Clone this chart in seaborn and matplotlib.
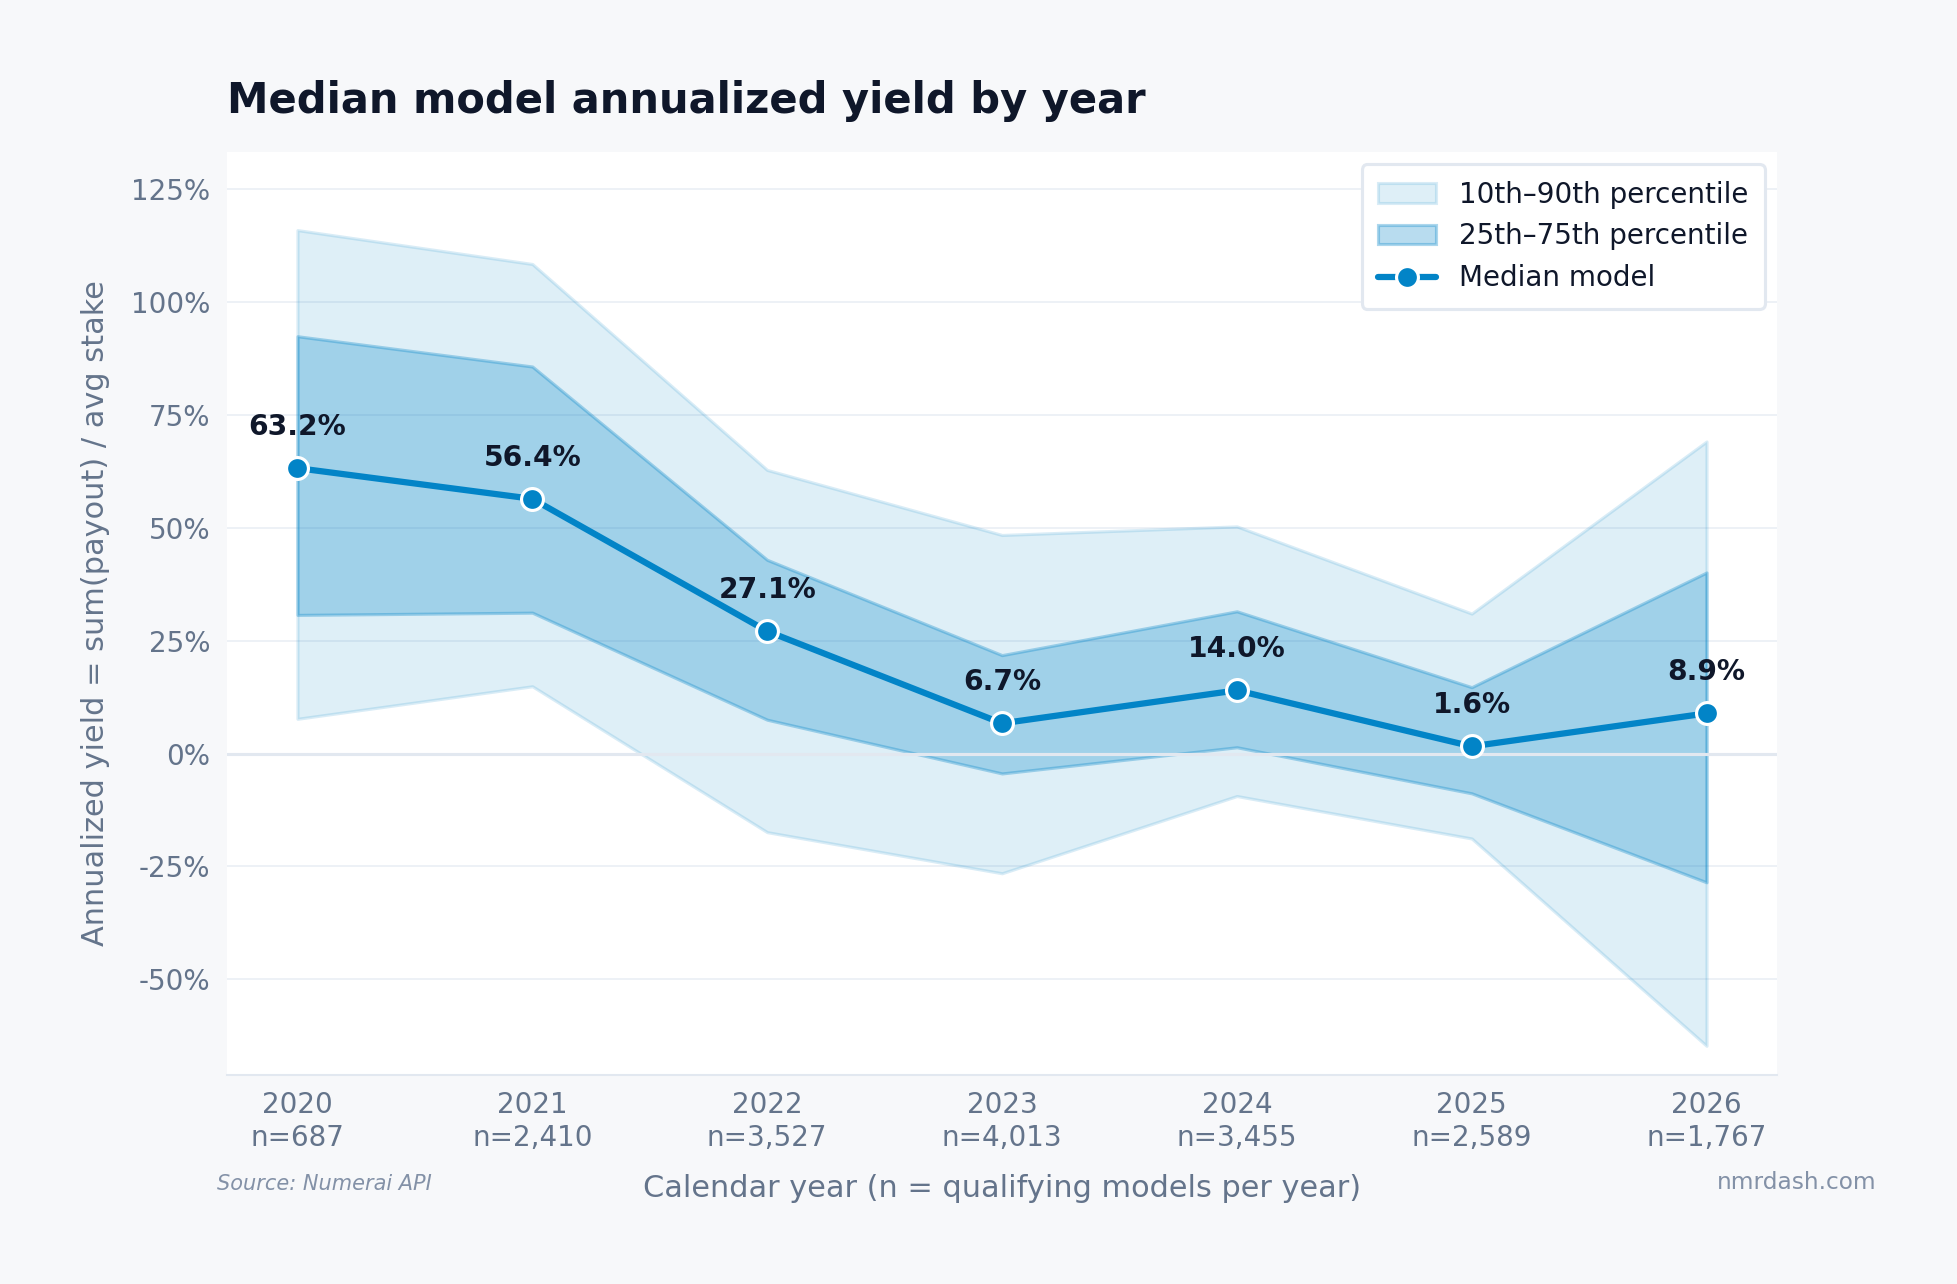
import matplotlib
matplotlib.use("Agg")
import matplotlib.pyplot as plt
import seaborn as sns
import numpy as np
import pandas as pd
from matplotlib.ticker import FuncFormatter

years = ["2020", "2021", "2022", "2023", "2024", "2025", "2026"]
counts = ["687", "2,410", "3,527", "4,013", "3,455", "2,589", "1,767"]
median = [63.2, 56.4, 27.1, 6.7, 14.0, 1.6, 8.9]
p10 = [7.7, 14.9, -17.4, -26.5, -9.4, -18.8, -64.7]
p25 = [30.7, 31.2, 7.5, -4.4, 1.4, -8.8, -28.5]
p75 = [92.4, 85.7, 42.9, 21.8, 31.5, 14.7, 40.1]
p90 = [115.9, 108.4, 62.8, 48.4, 50.3, 31.0, 69.1]

BG = "#f7f8fa"
LINE = "#0284c7"
DARK = "#0f172a"
MUTED = "#64748b"

sns.set_theme(style="white")
plt.rcParams["font.family"] = ["DejaVu Sans"]

fig = plt.figure(figsize=(13.047, 8.56), dpi=150, facecolor=BG)
ax = fig.add_axes([0.116, 0.163, 0.792, 0.719])
ax.set_facecolor("white")

x = np.arange(len(years))
df = pd.DataFrame({"x": x, "median": median})

ax.fill_between(x, p10, p90, facecolor=(2/255, 132/255, 199/255, 0.13),
                edgecolor=(2/255, 132/255, 199/255, 0.15),
                linewidth=1.5, label="10th\u201390th percentile", zorder=1)
ax.fill_between(x, p25, p75, facecolor=(2/255, 132/255, 199/255, 0.28),
                edgecolor=(2/255, 132/255, 199/255, 0.32),
                linewidth=1.5, label="25th\u201375th percentile", zorder=2)

ax.axhline(0, color="#e2e8f0", linewidth=1.5, zorder=3)

sns.lineplot(data=df, x="x", y="median", ax=ax, color=LINE, linewidth=3.0,
             marker="o", markersize=10.5, markeredgecolor="white", markeredgewidth=1.5,
             label="Median model", zorder=5)

for xi, m in zip(x, median):
    ax.annotate(f"{m:.1f}%", (xi, m), xytext=(0, 13), textcoords="offset points",
                ha="center", va="bottom", fontsize=13.5, fontweight="bold", color=DARK, zorder=6)

ax.set_xlim(-0.3, 6.3)
ax.set_ylim(-71.1, 133.3)
ax.set_yticks([-50, -25, 0, 25, 50, 75, 100, 125])
ax.yaxis.set_major_formatter(FuncFormatter(lambda v, p: f"{v:.0f}%"))
ax.set_xticks(x)
ax.set_xticklabels([f"{y}\nn={c}" for y, c in zip(years, counts)])
ax.tick_params(axis="both", labelsize=13.3, colors=MUTED, length=0, pad=8)
ax.grid(axis="y", color="#e2e8f0", linewidth=0.8, alpha=0.7)
for s in ["top", "right", "left"]:
    ax.spines[s].set_visible(False)
ax.spines["bottom"].set_color("#e2e8f0")
ax.spines["bottom"].set_linewidth(1.0)

ax.set_xlabel("Calendar year (n = qualifying models per year)", fontsize=14.6, color=MUTED, labelpad=10.5)
ax.set_ylabel("Annualized yield = sum(payout) / avg stake", fontsize=14.6, color=MUTED, labelpad=10)

fig.text(0.116, 0.912, "Median model annualized yield by year", fontsize=20,
         fontweight="bold", color=DARK, ha="left", va="baseline")

leg = ax.legend(loc="upper right", fontsize=13.3, frameon=True, fancybox=True,
                borderpad=0.6, handlelength=2.1, handletextpad=0.8,
                labelspacing=0.5, borderaxespad=0.45)
leg.get_frame().set_edgecolor("#e2e8f0")
leg.get_frame().set_linewidth(1.5)
leg.get_frame().set_facecolor("white")
leg.get_frame().set_alpha(1.0)
for t in leg.get_texts():
    t.set_color(DARK)

fig.text(0.111, 0.078, "Source: Numerai API", fontsize=10, style="italic", color="#8391a7",
         ha="left", va="center")
fig.text(0.959, 0.079, "nmrdash.com", fontsize=11.2, color="#8391a7", ha="right", va="center")

fig.savefig("out.png", dpi=150, facecolor=BG)
